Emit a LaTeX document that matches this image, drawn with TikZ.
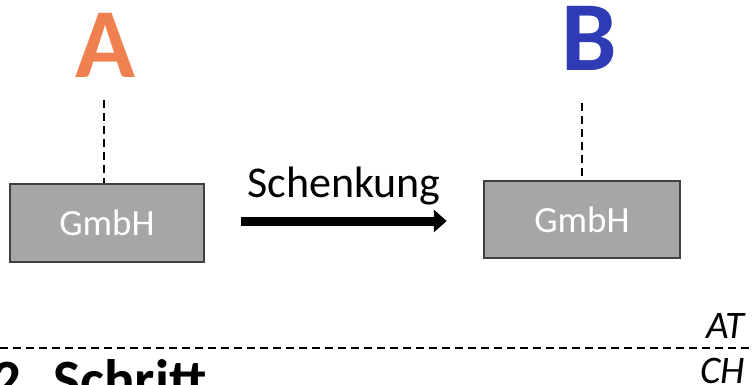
\documentclass[tikz,border=0pt]{standalone}
\usepackage{fontspec}
\setmainfont{Carlito}
\usetikzlibrary{arrows.meta}

\definecolor{ownerA}{RGB}{240,128,80}
\definecolor{ownerB}{RGB}{46,59,181}
\definecolor{gmbhfill}{RGB}{166,166,166}
\definecolor{gmbhdraw}{RGB}{64,64,64}

\begin{document}
\begin{tikzpicture}[x=1pt,y=-1pt]
   \tikzstyle{owner}=[inner sep=0,anchor=base,font=\fontsize{99}{99}\selectfont\bfseries]
   \tikzstyle{company}=[fill=gmbhfill,draw=gmbhdraw,line width=2.5pt,text=white,font=\fontsize{37}{37}\selectfont]
   \tikzstyle{holding}=[draw,line width=1.5pt,dash pattern=on 8pt off 5pt]
   \tikzstyle{gift}=[draw,line width=9pt,-{Triangle[length=13pt,width=22pt]}]
   \tikzstyle{country}=[inner sep=0,anchor=base east,font=\fontsize{39}{39}\selectfont\itshape]
   \useasboundingbox (0,0) rectangle (752,385);
   \node (a) [owner,text=ownerA] at (105,78) {A} ;
   \node (b) [owner,text=ownerB] at (589,71) {B} ;
   \node (gmbhA) [company,minimum width=194pt,minimum height=78pt] at (107,223) {GmbH} ;
   \node (gmbhB) [company,minimum width=196pt,minimum height=77pt] at (582,219.5) {GmbH} ;
   \path [holding,shorten <=22pt] (a.south -| 104,0) -- (gmbhA.north -| 104,0) ;
   \path [holding,shorten <=32pt] (b.south -| 582,0) -- (gmbhB.north) ;
   \path [gift,shorten <=36pt,shorten >=36pt] (gmbhA.east |- 0,221) -- (gmbhB.west |- 0,221)
      node [midway,above=8pt,font=\fontsize{44}{44}\selectfont] (gift) {Schenkung} ;
   % border line between the two countries
   \coordinate (west) at (0,348) ;
   \coordinate (east) at (752,348) ;
   \path [holding] (west) -- (east) ;
   \node (at) [country] at (745,338) {AT} ;
   \node (ch) [country] at (745,383) {CH} ;
   \node (step) [inner sep=0,anchor=base west,font=\fontsize{57}{57}\selectfont\bfseries] at (-8,399) {2. Schritt} ;
\end{tikzpicture}
\end{document}
